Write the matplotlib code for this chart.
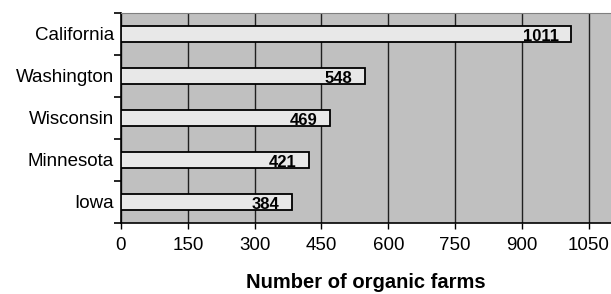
import matplotlib.pyplot as plt
import numpy as np

states = ['California', 'Washington', 'Wisconsin', 'Minnesota', 'Iowa']
farms = [1011, 548, 469, 421, 384]
x_ticks = [0, 150, 300, 450, 600, 750, 900, 1050]

plt.rcParams['font.family'] = ['Liberation Sans', 'DejaVu Sans']

fig = plt.figure(figsize=(6.11, 2.94), dpi=100)
ax = fig.add_axes([121 / 611, 1 - 223 / 294, 1 - 121 / 611, 210 / 294])
ax.set_facecolor('#c0c0c0')

pos = np.arange(len(states))
ax.barh(pos, farms, height=0.4, color='#e8e8e8', edgecolor='black', linewidth=1.3, zorder=3)

# value labels sit inside the bar end
for p, v in zip(pos, farms):
    ax.annotate(str(v), (v, p), xytext=(-9, -2), textcoords='offset points',
                ha='right', va='center', fontsize=12, fontweight='bold', zorder=4)

ax.set_xlim(0, 1100)
ax.set_ylim(len(states) - 0.5, -0.5)
ax.set_xticks(x_ticks)
ax.set_xticklabels([str(t) for t in x_ticks], fontsize=13.5)
ax.xaxis.grid(True, color='#202020', linewidth=1, zorder=1)
ax.set_axisbelow(True)

ax.set_yticks(pos)
ax.set_yticklabels(states, fontsize=13.5)
ax.set_yticks(np.arange(-0.5, len(states), 1), minor=True)
ax.tick_params(axis='y', which='major', length=0, pad=5)
ax.tick_params(axis='y', which='minor', length=5, width=1.2, color='black')
ax.tick_params(axis='x', length=4, width=1, pad=6)

ax.spines['right'].set_visible(False)
ax.spines['top'].set_color('#808080')
ax.spines['left'].set_linewidth(1.2)
ax.spines['bottom'].set_linewidth(1.2)

ax.set_xlabel('Number of organic farms', fontsize=14.5, fontweight='bold', labelpad=14)

fig.savefig('out.png', dpi=100)
